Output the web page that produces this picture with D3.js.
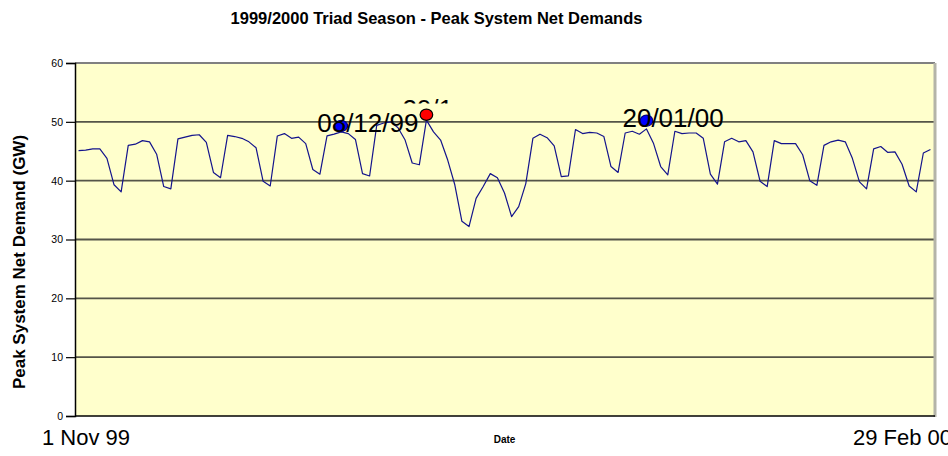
<!DOCTYPE html>
<html>
<head>
<meta charset="utf-8">
<script src="https://cdn.jsdelivr.net/npm/d3@7"></script>
<style>
  body { margin: 0; background: #fff; }
  svg { display: block; font-family: "Liberation Sans", Arial, sans-serif; }
</style>
</head>
<body>
<div id="chart"></div>
<script>
// Daily peak system net demand (GW), 1 Nov 1999 - 29 Feb 2000
const startDate = new Date(1999, 10, 1);
const demand = [
  45.1, 45.2, 45.4, 45.4, 43.8, 39.3, 38.1,
  46.0, 46.2, 46.8, 46.6, 44.5, 39.0, 38.6,
  47.1, 47.4, 47.7, 47.8, 46.5, 41.4, 40.5,
  47.7, 47.5, 47.2, 46.6, 45.6, 39.9, 39.1,
  47.6, 48.0, 47.2, 47.4, 46.3, 41.9, 41.1,
  47.6, 47.9, 48.3, 48.0, 47.0, 41.2, 40.8,
  49.4, 49.8, 50.0, 49.0, 46.9, 43.0, 42.7,
  50.3, 48.3, 46.9, 43.5, 39.3, 33.1, 32.2,
  37.0, 39.0, 41.2, 40.5, 37.9, 33.9, 35.6,
  39.5, 47.2, 47.9, 47.3, 45.9, 40.7, 40.8,
  48.7, 48.0, 48.2, 48.1, 47.5, 42.4, 41.4,
  48.1, 48.4, 47.9, 48.8, 46.3, 42.4, 41.0,
  48.4, 48.0, 48.1, 48.1, 47.2, 41.1, 39.4,
  46.6, 47.2, 46.6, 46.8, 44.9, 39.9, 39.0,
  46.8, 46.3, 46.3, 46.3, 44.4, 40.0, 39.2,
  46.0, 46.6, 46.9, 46.6, 43.8, 39.8, 38.6,
  45.4, 45.8, 44.8, 44.9, 42.8, 39.1, 38.1,
  44.7, 45.3
];
const dates = demand.map((v, i) => d3.timeDay.offset(startDate, i));

// Triad peaks
const triadDates = [new Date(1999, 11, 8), new Date(1999, 11, 20), new Date(2000, 0, 20)];
const triadValues = [49.3, 51.2, 50.2];
const triadLabels = ['08/12/99', '20/12/99', '20/01/00'];

const yTicks = [0, 10, 20, 30, 40, 50, 60];
const xEndLabels = ['1 Nov 99', '29 Feb 00'];

const width = 948, height = 456;
const plot = {left: 75, right: 934, top: 63, bottom: 416};

const svg = d3.select('#chart').append('svg')
    .attr('width', width)
    .attr('height', height);

const fmt = d3.timeFormat('%Y-%m-%d');
const x = d3.scalePoint()
    .domain(dates.map(fmt))
    .range([plot.left, plot.right])
    .padding(0.5);
const y = d3.scaleLinear().domain([0, 60]).range([plot.bottom, plot.top]);

// plot area
svg.append('rect')
    .attr('x', plot.left).attr('y', plot.top)
    .attr('width', plot.right - plot.left).attr('height', plot.bottom - plot.top)
    .attr('fill', '#FFFFCC');

// gridlines
svg.append('g')
  .selectAll('line')
  .data(yTicks.filter(t => t > 0 && t < 60))
  .join('line')
    .attr('x1', plot.left).attr('x2', plot.right)
    .attr('y1', d => y(d)).attr('y2', d => y(d))
    .attr('stroke', '#555548')
    .attr('stroke-width', 1.8);

// frame: top and right borders
svg.append('line')
    .attr('x1', plot.left).attr('x2', plot.right + 1)
    .attr('y1', plot.top).attr('y2', plot.top)
    .attr('stroke', '#808080').attr('stroke-width', 2);
svg.append('line')
    .attr('x1', plot.right + 1).attr('x2', plot.right + 1)
    .attr('y1', plot.top).attr('y2', plot.bottom + 1)
    .attr('stroke', '#b4b4a8').attr('stroke-width', 3);

// y axis
const yAxis = svg.append('g')
    .attr('transform', `translate(${plot.left},0)`)
    .call(d3.axisLeft(y).tickValues(yTicks).tickSize(9).tickPadding(3));
yAxis.select('.domain').attr('stroke', '#000').attr('stroke-width', 1.5);
yAxis.selectAll('.tick line').attr('stroke', '#000').attr('stroke-width', 1.2);
yAxis.selectAll('.tick text')
    .attr('font-size', 10.5)
    .attr('font-family', '"Liberation Sans", Arial, sans-serif')
    .attr('fill', '#000');

// x axis baseline
svg.append('line')
    .attr('x1', plot.left).attr('x2', plot.right + 1)
    .attr('y1', plot.bottom).attr('y2', plot.bottom)
    .attr('stroke', '#000').attr('stroke-width', 1.5);

// demand line
const line = d3.line()
    .x((d, i) => x(fmt(dates[i])))
    .y(d => y(d));
svg.append('path')
    .datum(demand)
    .attr('d', line)
    .attr('fill', 'none')
    .attr('stroke', '#14148c')
    .attr('stroke-width', 1.2)
    .attr('stroke-linejoin', 'round');

// triad markers
const triad = triadDates.map((d, i) => ({date: d, value: triadValues[i], label: triadLabels[i]}));
const maxTriad = d3.max(triadValues);
svg.append('g')
  .selectAll('ellipse')
  .data(triad)
  .join('ellipse')
    .attr('cx', d => x(fmt(d.date)))
    .attr('cy', d => y(d.value))
    .attr('rx', 6.3).attr('ry', 5.6)
    .attr('fill', d => d.value === maxTriad ? '#FF0000' : '#0000FF')
    .attr('stroke', d => d.value === maxTriad ? '#000' : '#000080')
    .attr('stroke-width', 1.2);

// labels (the top peak's label is partly hidden as in the original)
svg.append('defs').append('clipPath').attr('id', 'peakClip')
  .append('rect').attr('x', 0).attr('y', 0).attr('width', 451).attr('height', 103.5);

svg.append('g')
  .selectAll('text')
  .data(triad)
  .join('text')
    .attr('x', d => x(fmt(d.date)) - 24)
    .attr('y', d => y(d.value) + (d.value === maxTriad ? 3 : 6.5))
    .attr('clip-path', d => d.value === maxTriad ? 'url(#peakClip)' : null)
    .attr('font-size', 26)
    .attr('fill', '#000')
    .text(d => d.label);

// titles
svg.append('text')
    .attr('x', 436.5).attr('y', 24.3)
    .attr('text-anchor', 'middle')
    .attr('font-size', 16.5).attr('font-weight', 'bold')
    .text('1999/2000 Triad Season - Peak System Net Demands');

svg.append('text')
    .attr('transform', 'translate(25,262) rotate(-90)')
    .attr('text-anchor', 'middle')
    .attr('font-size', 17).attr('font-weight', 'bold')
    .text('Peak System Net Demand (GW)');

svg.append('text')
    .attr('x', (plot.left + plot.right) / 2).attr('y', 443)
    .attr('text-anchor', 'middle')
    .attr('font-size', 10).attr('font-weight', 'bold')
    .text('Date');

svg.append('text')
    .attr('x', 42).attr('y', 445)
    .attr('font-size', 22)
    .text(xEndLabels[0]);
svg.append('text')
    .attr('x', 853).attr('y', 445)
    .attr('font-size', 22)
    .text(xEndLabels[1]);
</script>
</body>
</html>
